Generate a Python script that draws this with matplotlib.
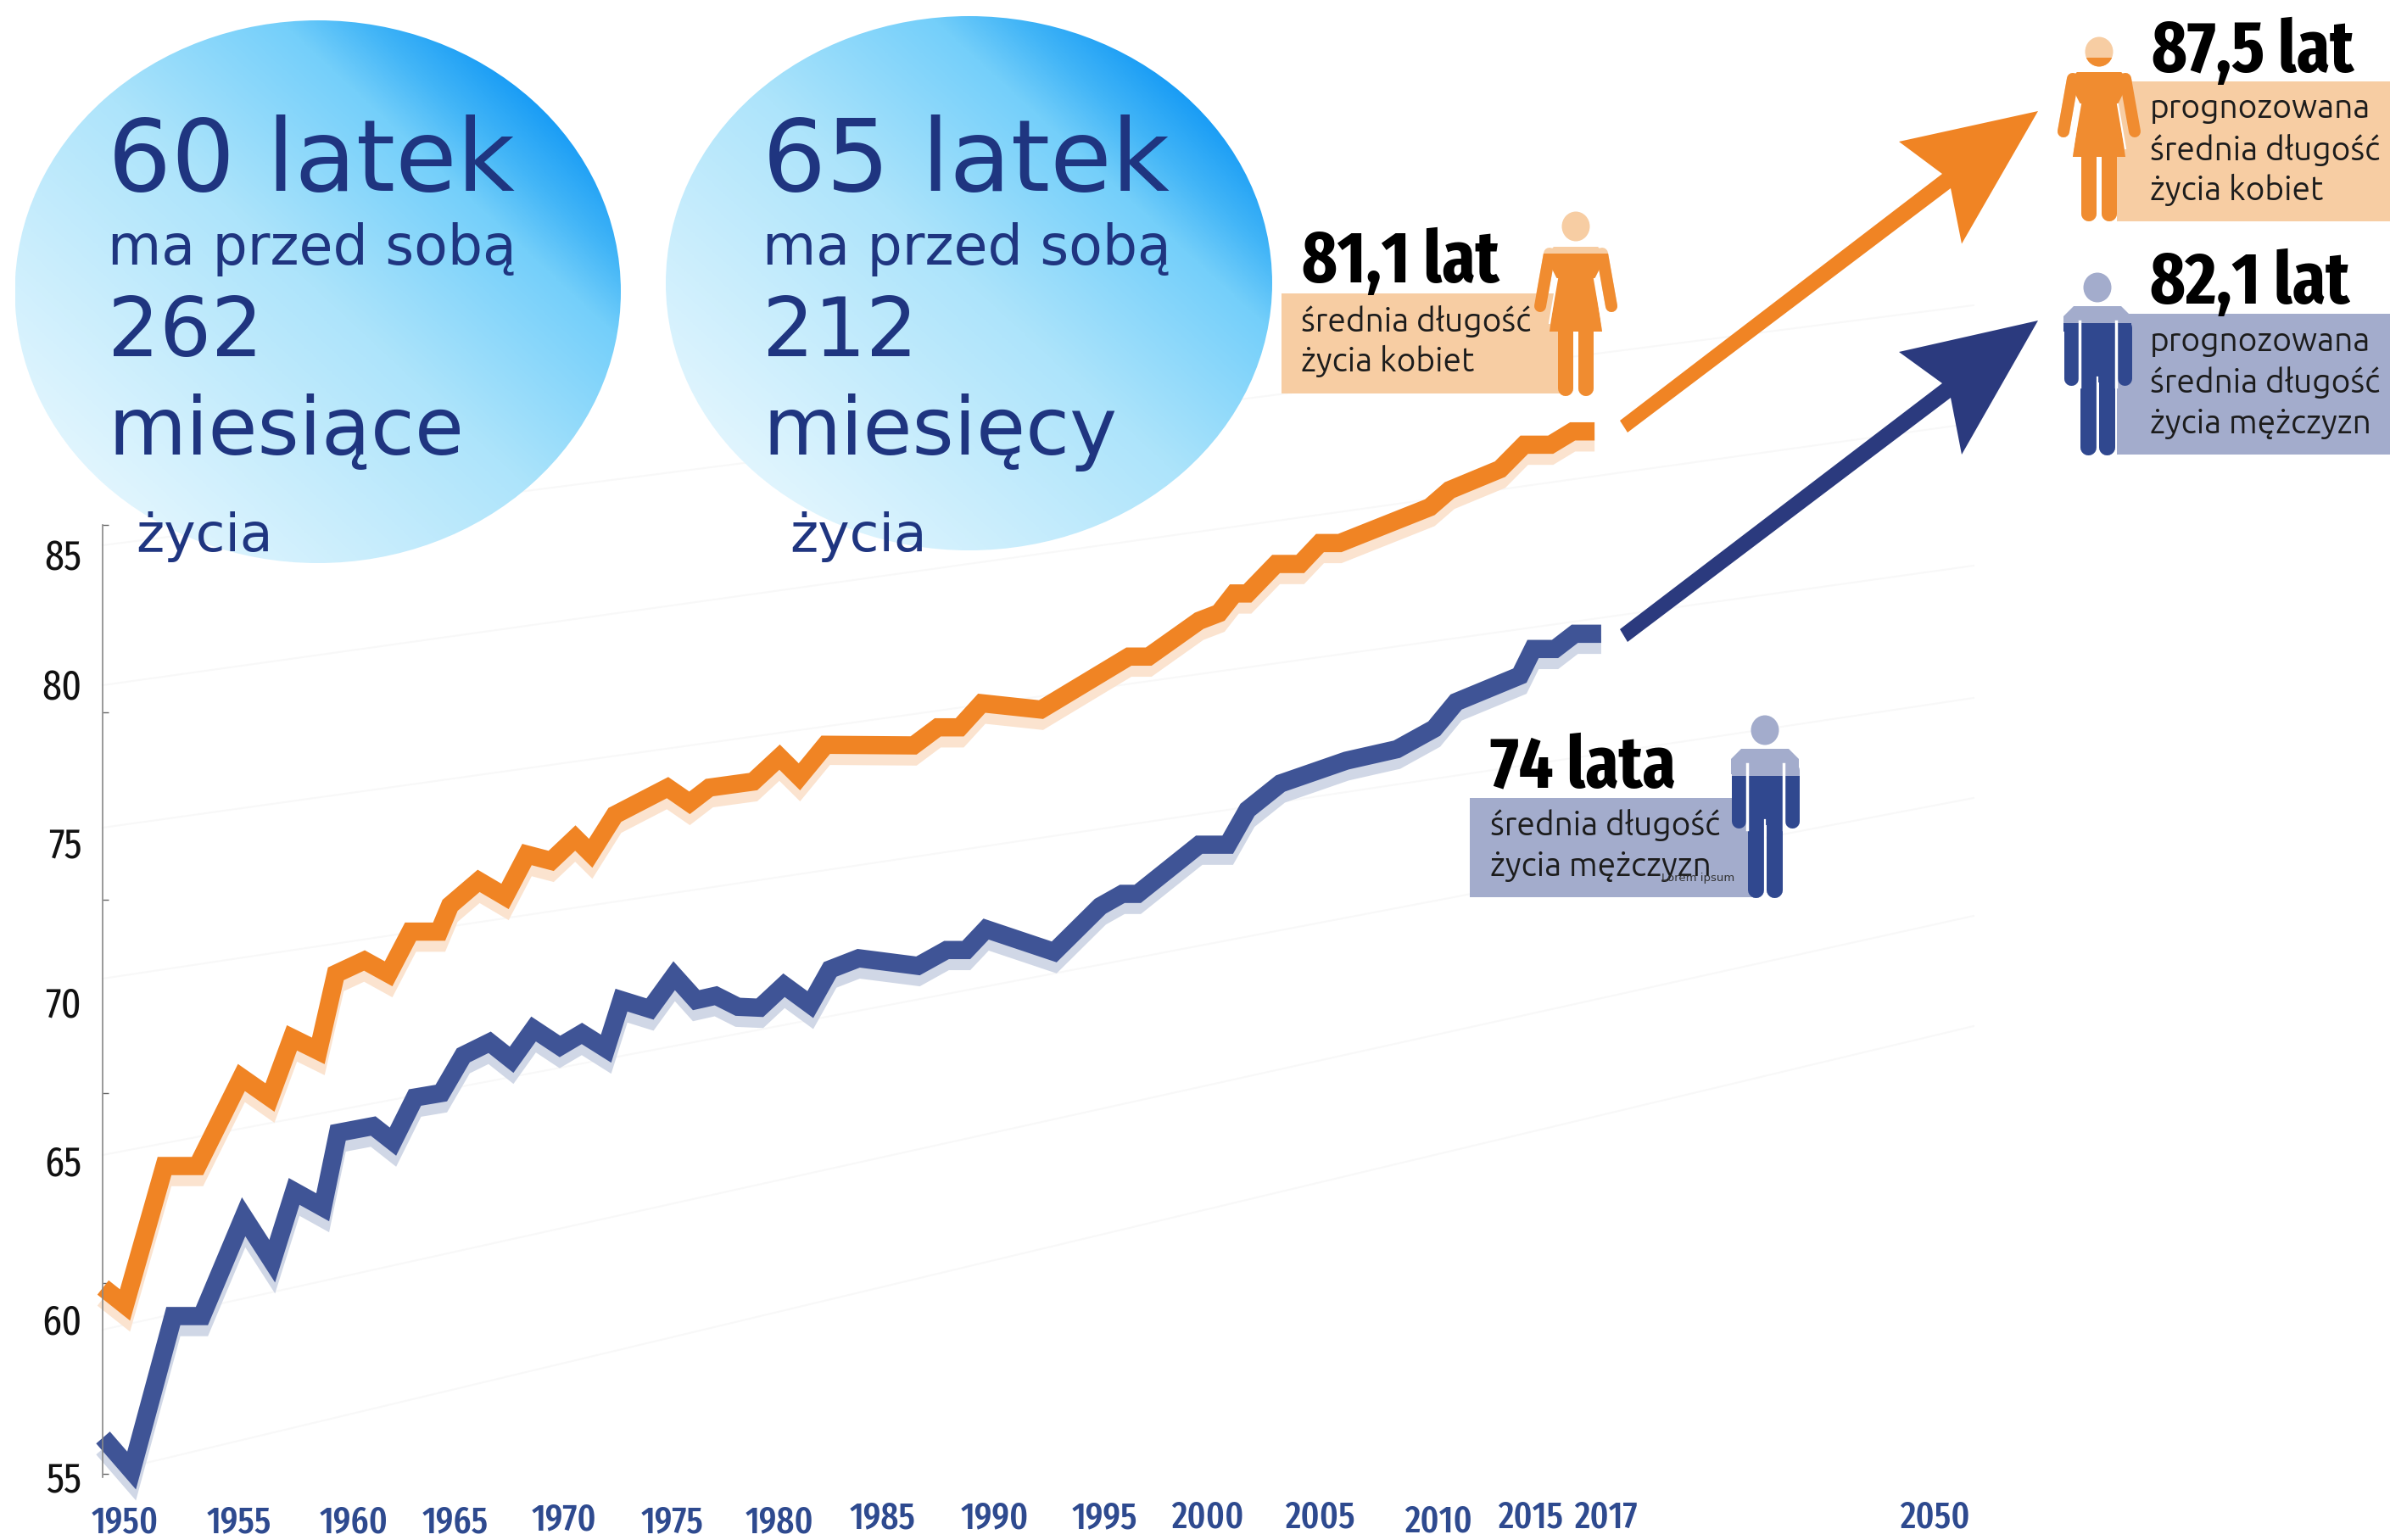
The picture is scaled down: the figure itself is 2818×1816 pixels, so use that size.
import numpy as np
import matplotlib
matplotlib.use("Agg")
import matplotlib.pyplot as plt
import matplotlib.patheffects as pe
from matplotlib.colors import LinearSegmentedColormap
from matplotlib.patches import Ellipse, Polygon, Rectangle
import logging
logging.getLogger("matplotlib.font_manager").setLevel(logging.ERROR)

# ---------- data ----------
men_years = [1949.0,1950.3,1952.2,1953.5,1955.4,1956.7,1957.7,1959.0,1959.7,1961.3,1962.2,1963.2,1964.4,1965.4,
             1966.6,1967.6,1968.6,1969.8,1970.8,1971.9,1972.6,1973.9,1975.0,1976.0,1976.9,1977.9,1978.9,1980.0,
             1981.2,1982.1,1983.4,1986.1,1987.4,1988.3,1989.2,1992.3,1994.4,1995.4,1996.1,1998.9,2000.2,2001.1,
             2002.6,2005.6,2007.9,2009.6,2010.6,2013.5,2014.1,2015.1,2016.0,2017.2]
men_values = [56.24,55.2,60.07,60.07,63.2,61.8,64.0,63.5,65.85,66.06,65.57,66.96,67.1,68.29,
              68.7,68.15,69.12,68.57,68.98,68.5,70.03,69.75,70.8,70.03,70.17,69.82,69.79,70.5,
              69.89,71.0,71.35,71.11,71.61,71.61,72.27,71.55,72.99,73.38,73.38,74.93,74.93,76.03,
              76.86,77.58,77.94,78.59,79.43,80.26,81.1,81.1,81.58,81.58]
women_years = [1949.0,1950.0,1951.8,1953.3,1955.3,1956.6,1957.6,1958.8,1959.6,1960.9,1962.0,1963.0,1964.3,1964.8,
               1966.1,1967.3,1968.3,1969.4,1970.5,1971.2,1972.3,1974.7,1975.7,1976.6,1978.6,1979.8,1980.7,1981.9,
               1985.9,1987.0,1988.0,1989.0,1991.7,1995.7,1996.6,1998.9,1999.8,2000.5,2001.1,2002.4,2003.5,2004.4,
               2005.3,2009.4,2010.3,2012.6,2013.7,2014.9,2015.9,2016.9]
women_values = [60.97,60.42,64.8,64.8,67.59,66.96,68.84,68.43,70.86,71.28,70.86,72.19,72.19,73.02,
                73.79,73.3,74.62,74.42,75.14,74.66,75.87,76.73,76.25,76.73,76.92,77.69,77.07,78.08,
                78.06,78.63,78.63,79.39,79.19,80.86,80.86,81.99,82.23,82.85,82.85,83.78,83.78,84.44,
                84.44,85.57,86.11,86.77,87.54,87.54,87.96,87.96]
xtick_labels = ["1950","1955","1960","1965","1970","1975","1980","1985","1990","1995","2000","2005","2010","2015","2017","2050"]
xtick_years = [1950,1955.2,1960.4,1965.05,1970.0,1974.9,1979.8,1984.5,1989.6,1994.6,1999.3,2004.4,2009.8,2014.0,2017.4,2032.4]
xtick_low = [1,1,1,1,0.5,1,1,0,0,0,0,0,1,0,0,0]
ytick_labels = [55,60,65,70,75,80]
ytick_marks = [55.1,61.1,67.1,73.2,79.1,85]

ORANGE="#F08424"; NAVY="#2B3A7E"; BLUE="#3F5496"; TXT="#1F3580"
NARROW=["Fira Sans Extra Condensed","Liberation Sans"]
SANS=["Ubuntu","Lato","DejaVu Sans"]
px=0.72  # points per pixel at dpi 100

fig=plt.figure(figsize=(28.18,18.16),dpi=100,facecolor="white")
ov=fig.add_axes([0,0,1,1],zorder=1); ov.axis("off")
ax=fig.add_axes([0,0,1,1],zorder=2); ax.patch.set_alpha(0)

# ---------- chart ----------
ax.set_xlim(1944.31,2053.11); ax.set_ylim(53.01,101.56)
for s in ("top","right"): ax.spines[s].set_visible(False)
ax.spines["bottom"].set_visible(False)
ax.spines["bottom"].set_position(("data",54.3))
ax.spines["left"].set_position(("data",1949))
ax.spines["left"].set_bounds(55,85)
ax.spines["left"].set_color("#888888"); ax.spines["left"].set_linewidth(1.2)

ax.plot(women_years,women_values,color=ORANGE,lw=21.5*px,solid_joinstyle="miter",solid_capstyle="butt",
        path_effects=[pe.SimpleLineShadow(offset=(0,-13*px),shadow_color="#FBE3CF",alpha=1),pe.Normal()],clip_on=False)
ax.plot(men_years,men_values,color=BLUE,lw=21.5*px,solid_joinstyle="miter",solid_capstyle="butt",
        path_effects=[pe.SimpleLineShadow(offset=(0,-13*px),shadow_color="#D0D7E6",alpha=1),pe.Normal()],clip_on=False)

ax.set_yticks(ytick_marks); ax.set_yticklabels([])
ax.tick_params(axis="y",which="major",direction="in",length=7*px,width=1,color="#666666")
ax.set_yticks(ytick_labels,minor=True)
ax.set_yticklabels([str(v) for v in ytick_labels],minor=True,fontfamily=NARROW,fontsize=36,color="#111111")
ax.tick_params(axis="y",which="minor",length=0,pad=25*px)
ax.annotate("85",xy=(1949,85),xycoords="data",xytext=(-25,-40),textcoords="offset pixels",ha="right",va="center",
            fontfamily=NARROW,fontsize=36,color="#111111")
ax.set_xticks(xtick_years); ax.set_xticklabels(xtick_labels,fontfamily=NARROW,fontweight=500,fontsize=32,color="#2E4A8F")
ax.tick_params(axis="x",length=0)
for tick,low in zip(ax.xaxis.get_major_ticks(),xtick_low):
    tick.set_pad(1*px+low*5*px)

# ---------- faint guide lines ----------
for x0,y0,x1,y1 in [(121,643,2327,360),(121,808,2327,499),(121,976,2327,667),(121,1154,2327,823),
                    (121,1362,2327,941),(121,1568,2327,1080),(156,1729,2327,1210)]:
    ov.plot([x0,x1],[y0,y1],color="#F8F8F8",lw=1.5,zorder=0.5)

# ---------- gradient ellipses ----------
cmap=LinearSegmentedColormap.from_list("g",[(0,"#E0F5FE"),(0.5,"#ADE4FB"),(0.8,"#74CFFA"),(0.9,"#42B5F7"),(1,"#1A9DF5")])
u,v=np.meshgrid(np.linspace(-1,1,500),np.linspace(1,-1,500))
grad=np.clip((u*0.72+v*0.69+1)/2,0,1)
for (x0,x1,y0,y1) in [(17.5,732,24,664),(785,1500,19,649)]:
    im=ov.imshow(grad,cmap=cmap,vmin=0,vmax=1,extent=(x0,x1,y1,y0),aspect="auto",interpolation="bilinear",zorder=1)
    e=Ellipse(((x0+x1)/2,(y0+y1)/2),x1-x0,y1-y0,transform=ov.transData)
    im.set_clip_path(e)
ov.set_xlim(0,2818); ov.set_ylim(1816,0)

for x,xz,l1,l2,l3 in [(127,160,"60 latek","262","miesiące"),(899,931,"65 latek","212","miesięcy")]:
    kw=dict(family="DejaVu Sans",color=TXT,va="baseline",zorder=5)
    ov.text(x,225,l1,fontsize=85,**kw)
    ov.text(x,312,"ma przed sobą",fontsize=46.7,**kw)
    ov.text(x,420,l2,fontsize=69,**kw)
    ov.text(x,536,l3,fontsize=68,**kw)
    ov.text(xz,650,"życia",fontsize=45.5,**kw)

# ---------- panels ----------
def box(x0,x1,y0,y1,c):
    ov.add_patch(Rectangle((x0,y0),x1-x0,y1-y0,fc=c,ec="none",zorder=3))
def lines(x,rows,size=28):
    for y,t in rows:
        ov.text(x,y,t,family=SANS,fontsize=size,color="#1c1c1c",va="baseline",zorder=5)
def head(x,y,t):
    ov.text(x,y,t,family=NARROW,fontweight="bold",fontsize=62,color="black",va="baseline",zorder=5)

def figure(cx,top,hx,hy,thresh,light,dark,female):
    for col,clip in ((light,None),(dark,thresh)):
        arts=[ov.add_patch(Ellipse((hx,hy),33,35,fc=col,ec="none",zorder=4))]
        if female:
            for s in (-1,1):
                a,=ov.plot([cx+s*31,cx+s*42],[top+8,top+70],color=col,lw=14*px,solid_capstyle="round",zorder=4); arts.append(a)
                a,=ov.plot([cx+s*12,cx+s*12],[top+100,top+167],color=col,lw=18*px,solid_capstyle="round",zorder=4); arts.append(a)
            arts.append(ov.add_patch(Polygon([(cx-26,top),(cx+26,top),(cx+36,top+10),(cx+22,top+38),(cx+31,top+100),
                                              (cx-31,top+100),(cx-22,top+38),(cx-36,top+10)],fc=col,ec="none",zorder=4)))
        else:
            arts.append(ov.add_patch(Polygon([(cx-28,top),(cx+28,top),(cx+40,top+12),(cx+40,top+30),(cx-40,top+30),(cx-40,top+12)],
                                             fc=col,ec="none",zorder=4)))
            for s in (-1,1):
                a,=ov.plot([cx+s*31.5,cx+s*31.5],[top+25,top+85],color=col,lw=17*px,solid_capstyle="round",zorder=4); arts.append(a)
                a,=ov.plot([cx+s*11,cx+s*11],[top+70,top+166],color=col,lw=19*px,solid_capstyle="round",zorder=4); arts.append(a)
            arts.append(ov.add_patch(Rectangle((cx-20.5,top+20),41,70,fc=col,ec="none",zorder=4)))
        if clip is not None:
            for a in arts:
                a.set_clip_path(Rectangle((cx-80,clip),160,400,transform=ov.transData))
    if female:
        for s in (-1,1):
            ov.plot([cx+s*22,cx+s*31],[top+38,top+90],color="white",lw=1.5,zorder=4.5)
    else:
        for s in (-1,1):
            ov.plot([cx+s*21.5,cx+s*21.5],[top+18,top+95],color="white",lw=2.5,zorder=4.5)
        ov.plot([cx,cx],[top+84,top+176],color="white",lw=1.6,zorder=4.5)

LO="#F7CDA3"; LB="#A3ACCC"; DO="#F08C30"; DB="#30488F"
box(1511,1849,346,464,LO); head(1535,333,"81,1 lat")
lines(1534,[(390.6,"średnia długość"),(438,"życia kobiet")])
figure(1858,291,1858,267,299,LO,DO,True)

box(1733,2073,941,1058,LB); head(1757,928,"74 lata")
lines(1757,[(985,"średnia długość"),(1033,"życia mężczyzn")])
ov.text(1959,1039,"Lorem ipsum",family="DejaVu Sans",fontsize=9.5,color="#333333",va="baseline",zorder=5)
figure(2081,883,2081,861,915,LB,DB,False)

box(2496,2818,96,261,LO); head(2537,85,"87,5 lat")
lines(2535,[(139,"prognozowana"),(189,"średnia długość"),(236,"życia kobiet")])
figure(2475,85,2475,61,68,LO,DO,True)

box(2496,2818,370,536,LB); head(2535,358,"82,1 lat")
lines(2535,[(414,"prognozowana"),(463,"średnia długość"),(511,"życia mężczyzn")])
figure(2473,361,2473,339,381,LB,DB,False)

# ---------- projection arrows ----------
ov.add_patch(Polygon([(1910,496),(2290,205),(2239,167),(2403,131),(2313,287.5),(2300,222),(1919,510)],fc=ORANGE,ec="none",zorder=3))
ov.add_patch(Polygon([(1910,742),(2290,452),(2239,415),(2403,378),(2313,536),(2300,469),(1919,757)],fc=NAVY,ec="none",zorder=3))

ov.set_xlim(0,2818); ov.set_ylim(1816,0)
fig.savefig("out.png",dpi=100)
